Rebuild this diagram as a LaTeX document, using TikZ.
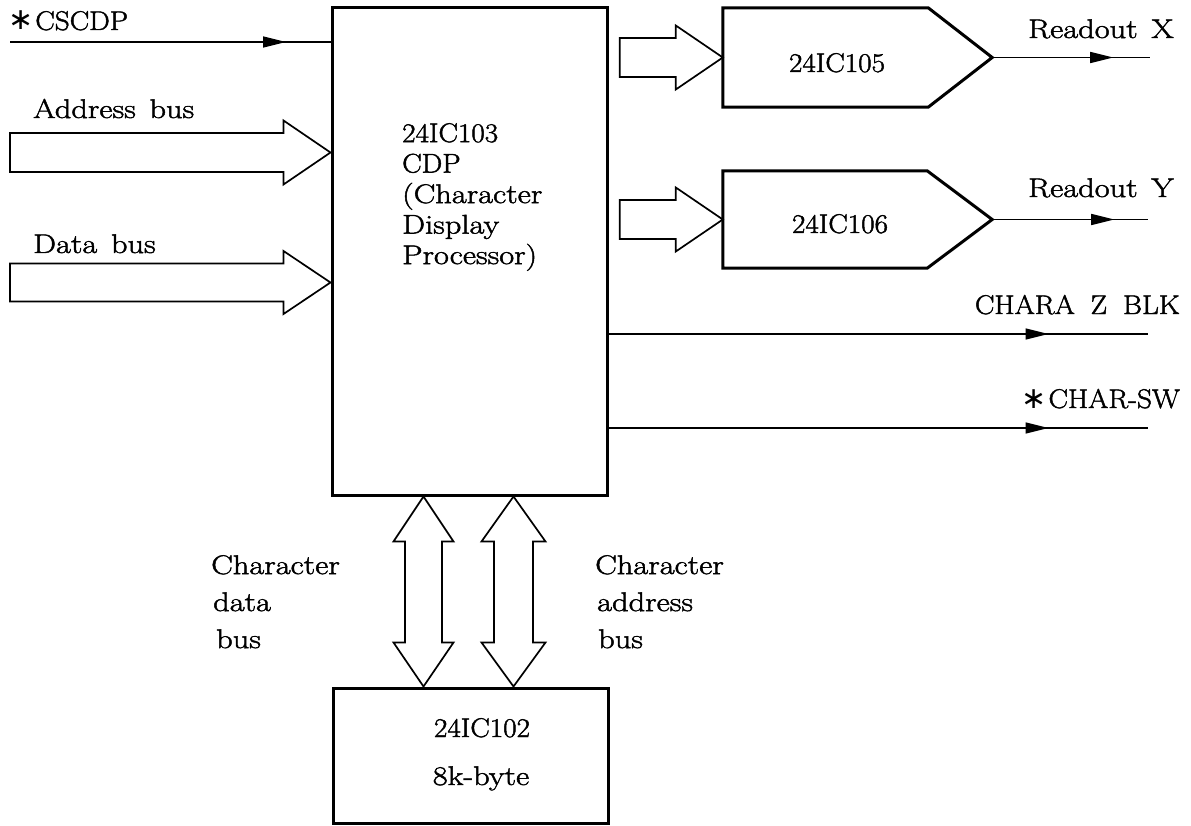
\documentclass[tikz,border=0pt]{standalone}
\usepackage{fontspec}
\setmainfont{Latin Modern Roman}[FakeStretch=1.2,FakeBold=1.7,WordSpace=1.4]
\newfontfamily\capsfont{Latin Modern Roman}[FakeStretch=1.08,FakeBold=1.7,WordSpace=1.8]
\newfontfamily\symfont{DejaVu Sans}
\newcommand\bigast{{\symfont\fontsize{30}{30}\selectfont ∗}}
\usetikzlibrary{arrows.meta,decorations.markings,calc}
\begin{document}
\begin{tikzpicture}[x=1pt,y=-1pt,
  box/.style={draw,line width=3pt,inner sep=0pt},
  conn/.style={line width=1.7pt},
  bus/.style={draw,line width=1.7pt,line join=miter},
  txt/.style={font=\fontsize{27}{31}\selectfont,inner sep=0pt},
  ctxt/.style={font=\capsfont\fontsize{27}{31}\selectfont,inner sep=0pt},
  midarrow/.style={postaction={decorate},decoration={markings,mark=at position #1 with {\arrow{Triangle[length=23pt,width=11pt]}}}}]
\useasboundingbox (0,0) rectangle (1191,826);

% main box
\node[draw,line width=3pt,inner sep=0pt,minimum width=275pt,minimum height=487pt] (cdp) at (469.5,251.5) {};
\node[txt,align=left,anchor=north west,font=\fontsize{27}{30.5}\selectfont] (cdptxt) at (402,123)
  {{\capsfont 24IC103}\\{\capsfont CDP}\\(Character\\Display\\Processor)};

% memory box
\node[draw,line width=3pt,inner sep=0pt,minimum width=275pt,minimum height=135pt] (mem) at (470.5,755.5) {};
\node[ctxt,anchor=base] (memA) at (482,737) {24IC102};
\node[txt,anchor=base] (memB) at (481,785) {8k-byte};

% signal boxes
\node[inner sep=0pt,minimum width=205pt,minimum height=99pt] (ic105) at (825.5,57.5) {};
\coordinate (ic105tip) at ($(ic105.east)+(64,0)$);
\draw[line width=3pt,line join=miter] (ic105.north west) -- (ic105.north east) -- (ic105tip) -- (ic105.south east) -- (ic105.south west) -- cycle;
\node[ctxt,anchor=base] (ic105t) at (837,72) {24IC105};

\node[inner sep=0pt,minimum width=204pt,minimum height=97pt] (ic106) at (825,219.5) {};
\coordinate (ic106tip) at ($(ic106.east)+(65,0)$);
\draw[line width=3pt,line join=miter] (ic106.north west) -- (ic106.north east) -- (ic106tip) -- (ic106.south east) -- (ic106.south west) -- cycle;
\node[ctxt,anchor=base] (ic106t) at (840,233) {24IC106};

% input labels
\node[ctxt,anchor=base west] (lcscdp) at (8,30) {\bigast\hspace{2pt}CSCDP};
\node[txt,anchor=base west] (laddr) at (33,118) {Address bus};
\node[txt,anchor=base west] (ldata) at (33,253) {Data bus};

% CSCDP line
\coordinate (cscS) at (10,42);
\draw[conn,midarrow=276pt] (cscS) -- (cscS -| cdp.west);

% address bus hollow arrow
\coordinate (abS) at (10,152.5);
\coordinate (abT) at (abS -| cdp.west);
\draw[bus] ($(abS)+(0,-19.5)$) -- ($(abT)+(-47,-19.5)$) -- ($(abT)+(-47,-32)$) -- (abT)
  -- ($(abT)+(-47,32)$) -- ($(abT)+(-47,19.5)$) -- ($(abS)+(0,19.5)$) -- cycle;

% data bus hollow arrow
\coordinate (dbS) at (10,282.5);
\coordinate (dbT) at (dbS -| cdp.west);
\draw[bus] ($(dbS)+(0,-19)$) -- ($(dbT)+(-47,-19)$) -- ($(dbT)+(-47,-31.5)$) -- (dbT)
  -- ($(dbT)+(-47,31.5)$) -- ($(dbT)+(-47,19)$) -- ($(dbS)+(0,19)$) -- cycle;

% hollow arrows into 24IC105 / 24IC106
\coordinate (x5T) at (ic105.west);
\coordinate (x5S) at ($(x5T)+(-103,0)$);
\draw[bus] ($(x5S)+(0,-19.5)$) -- ($(x5T)+(-47,-19.5)$) -- ($(x5T)+(-47,-32)$) -- (x5T)
  -- ($(x5T)+(-47,32)$) -- ($(x5T)+(-47,19.5)$) -- ($(x5S)+(0,19.5)$) -- cycle;
\coordinate (x6T) at (ic106.west);
\coordinate (x6S) at ($(x6T)+(-103,0)$);
\draw[bus] ($(x6S)+(0,-19.5)$) -- ($(x6T)+(-47,-19.5)$) -- ($(x6T)+(-47,-32)$) -- (x6T)
  -- ($(x6T)+(-47,32)$) -- ($(x6T)+(-47,19.5)$) -- ($(x6S)+(0,19.5)$) -- cycle;

% readout lines
\coordinate (rxE) at (1150,57.5);
\draw[conn,midarrow=121pt] (ic105tip) -- (rxE);
\node[txt,anchor=base east] (lrx) at (1174,38) {Readout X};
\coordinate (ryE) at (1148,219.5);
\draw[conn,midarrow=122pt] (ic106tip) -- (ryE);
\node[txt,anchor=base east] (lry) at (1174,197) {Readout Y};

% CHARA Z BLK and CHAR-SW
\coordinate (chE) at (1148,334);
\draw[conn,midarrow=440pt] (chE -| cdp.east) -- (chE);
\node[ctxt,anchor=base east] (lch) at (1180,314) {CHARA Z BLK};
\coordinate (swE) at (1148,428);
\draw[conn,midarrow=440pt] (swE -| cdp.east) -- (swE);
\node[ctxt,anchor=base east] (lsw) at (1180,408) {\bigast\hspace{2pt}CHAR-SW};

% vertical double hollow arrows
\coordinate (ldT) at ($(cdp.south west)+(93,0)$);
\coordinate (ldB) at ($(mem.north west)+(92,0)$);
\draw[bus] (ldT) -- ($(ldT)+(30,45)$) -- ($(ldT)+(18.5,45)$) -- ($(ldB)+(18.5,-44)$) -- ($(ldB)+(30,-44)$)
  -- (ldB) -- ($(ldB)+(-30,-44)$) -- ($(ldB)+(-18.5,-44)$) -- ($(ldT)+(-18.5,45)$) -- ($(ldT)+(-30,45)$) -- cycle;
\coordinate (rdT) at ($(cdp.south west)+(183,0)$);
\coordinate (rdB) at ($(mem.north west)+(182,0)$);
\draw[bus] (rdT) -- ($(rdT)+(32,45)$) -- ($(rdT)+(19.5,45)$) -- ($(rdB)+(19.5,-44)$) -- ($(rdB)+(32,-44)$)
  -- (rdB) -- ($(rdB)+(-32,-44)$) -- ($(rdB)+(-19.5,-44)$) -- ($(rdT)+(-19.5,45)$) -- ($(rdT)+(-32,45)$) -- cycle;

% bus labels
\node[txt,align=left,anchor=north west,font=\fontsize{27}{37}\selectfont] (lcdb) at (211,555) {Character\\\hspace*{2pt}data\\\hspace*{5pt}bus};
\node[txt,align=left,anchor=north west,font=\fontsize{27}{37}\selectfont] (lcab) at (595,555) {Character\\\hspace*{2pt}address\\\hspace*{3pt}bus};
\end{tikzpicture}
\end{document}
